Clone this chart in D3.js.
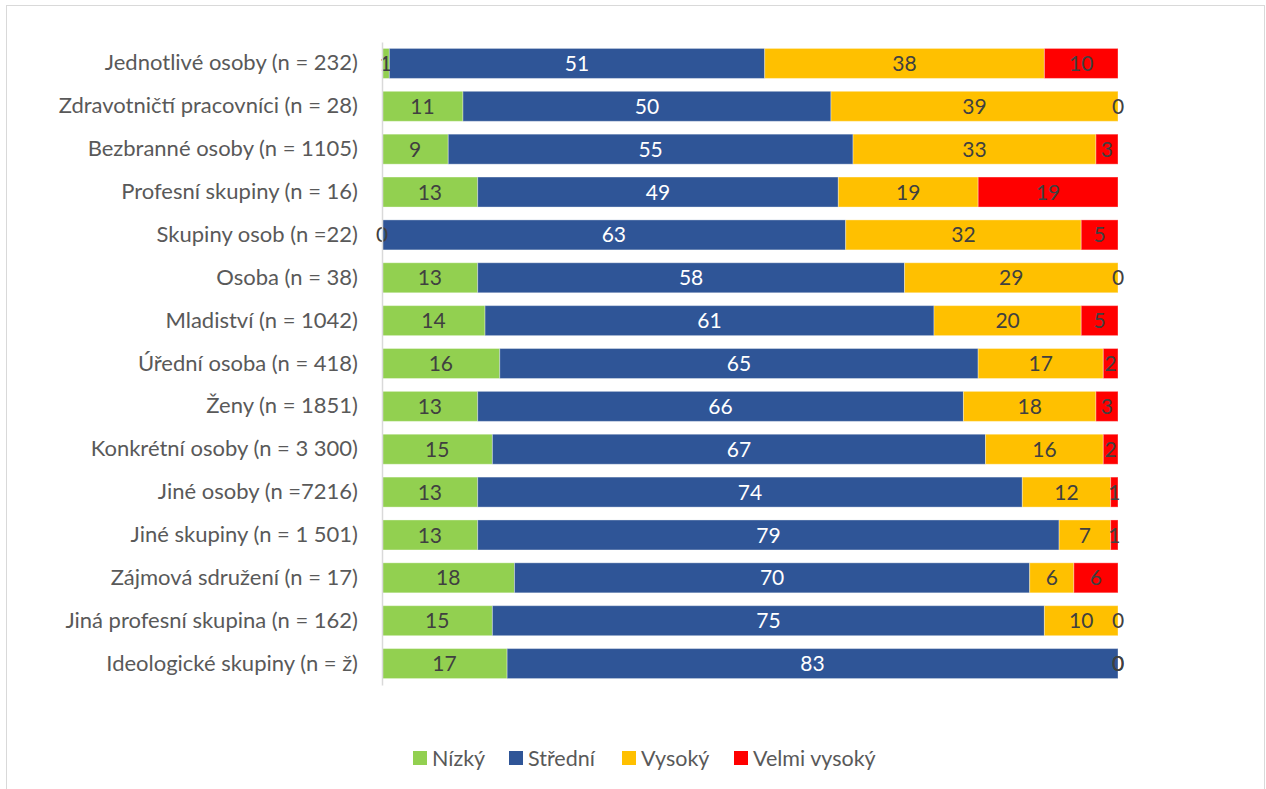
<!DOCTYPE html>
<html><head><meta charset="utf-8">
<script src="https://cdn.jsdelivr.net/npm/d3@7"></script>
<style>body{margin:0;background:#fff;}svg{display:block;}</style>
</head><body>
<svg id="c" width="1266" height="789"></svg>
<script>
const categories = ["Jednotlivé osoby (n = 232)","Zdravotničtí pracovníci (n = 28)","Bezbranné osoby (n = 1105)","Profesní skupiny (n = 16)","Skupiny osob (n =22)","Osoba (n = 38)","Mladiství (n = 1042)","Úřední osoba (n = 418)","Ženy (n = 1851)","Konkrétní osoby (n = 3 300)","Jiné osoby (n =7216)","Jiné skupiny (n = 1 501)","Zájmová sdružení (n = 17)","Jiná profesní skupina (n = 162)","Ideologické skupiny (n = ž)"];
const seriesNames = ["Nízký","Střední","Vysoký","Velmi vysoký"];
const nizky =   [1,11,9,13,0,13,14,16,13,15,13,13,18,15,17];
const stredni = [51,50,55,49,63,58,61,65,66,67,74,79,70,75,83];
const vysoky =  [38,39,33,19,32,29,20,17,18,16,12,7,6,10,0];
const velmi =   [10,0,3,19,5,0,5,2,3,2,1,1,6,0,0];
const colors = ["#92D050","#2F5597","#FFC000","#FF0000"];
const labelColors = ["#404040","#ffffff","#404040","#404040"];

const series = [nizky, stredni, vysoky, velmi];
const rows = categories.map((c,i)=>{const o={cat:c}; seriesNames.forEach((s,k)=>o[s]=series[k][i]); return o;});
const stack = d3.stack().keys(seriesNames)(rows);

const svg = d3.select("#c");
const font = "Lato, sans-serif";
svg.append("rect").attr("x",6.5).attr("y",5.5).attr("width",1258).attr("height",800)
  .attr("fill","#fff").attr("stroke","#d9d9d9");

const x = d3.scaleLinear().domain([0,100]).range([382,1118]);
const y = d3.scaleBand().domain(categories).range([42,685]).paddingInner(0.3).paddingOuter(0.15);

const g = svg.append("g");
stack.forEach((layer,k)=>{
  g.selectAll(null).data(layer).enter().append("rect")
    .attr("x",d=>x(d[0])).attr("y",d=>y(d.data.cat))
    .attr("width",d=>x(d[1])-x(d[0])).attr("height",y.bandwidth())
    .attr("fill",colors[k]).attr("stroke","rgba(255,255,255,0.35)").attr("stroke-width",1);
});
stack.forEach((layer,k)=>{
  g.selectAll(null).data(layer).enter().append("text")
    .attr("x",d=>(x(d[0])+x(d[1]))/2).attr("y",d=>y(d.data.cat)+y.bandwidth()/2)
    .attr("dy","0.36em").attr("text-anchor","middle")
    .attr("font-family",font).attr("font-size",21)
    .attr("fill",d=>(d[1]-d[0])===0?"#404040":labelColors[k])
    .text(d=>d[1]-d[0]);
});

const yAxis = svg.append("g").attr("transform","translate(382,0)")
  .call(d3.axisLeft(y).tickSize(0).tickPadding(24));
yAxis.select(".domain").attr("stroke","#d9d9d9").attr("stroke-width",1.5);
yAxis.selectAll("text").attr("font-family",font).attr("font-size",22).attr("fill","#595959");

const legendX = [413,509,622,734];
const lg = svg.append("g");
seriesNames.forEach((s,k)=>{
  lg.append("rect").attr("x",legendX[k]).attr("y",751).attr("width",14).attr("height",14).attr("fill",colors[k]);
  lg.append("text").attr("x",legendX[k]+19).attr("y",758).attr("dy","0.36em")
    .attr("font-family",font).attr("font-size",21.5).attr("fill","#595959").text(s);
});
</script>
</body></html>
